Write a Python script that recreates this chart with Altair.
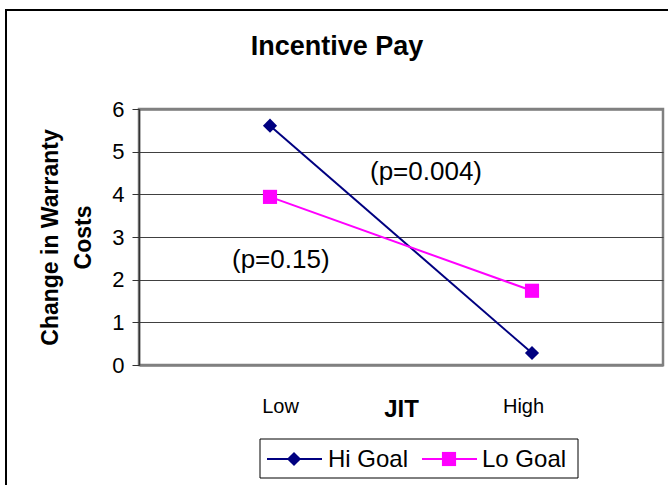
import altair as alt
import pandas as pd

categories = ["Low", "High"]
series_names = ["Hi Goal", "Lo Goal"]
hi_goal = [5.61, 0.28]
lo_goal = [3.94, 1.74]
y_ticks = [0, 1, 2, 3, 4, 5, 6]
annotations = ["(p=0.004)", "(p=0.15)"]
title_text = "Incentive Pay"

colors = ["#000080", "#FF00FF"]
FONT = "Liberation Sans"

rows = []
for name, vals in zip(series_names, [hi_goal, lo_goal]):
    for c, v in zip(categories, vals):
        rows.append({"series": name, "jit": c, "value": v})
df = pd.DataFrame(rows)
dummy = pd.DataFrame({"k": [0]})

x_enc = alt.X(
    "jit:N",
    sort=categories,
    scale=alt.Scale(type="point", padding=0.5),
    axis=alt.Axis(
        title="JIT",
        titleFont=FONT,
        titleFontSize=24,
        titleFontWeight="bold",
        titleColor="black",
        titleY=51,
        titleBaseline="alphabetic",
        labelFont=FONT,
        labelFontSize=20,
        labelColor="black",
        labelAngle=0,
        labelPadding=31,
        labelOffset=alt.condition("datum.value == 'Low'", alt.value(10), alt.value(-9)),
        domain=False,
        ticks=False,
        grid=False,
    ),
)
y_enc = alt.Y(
    "value:Q",
    scale=alt.Scale(domain=[0, 6], nice=False),
    axis=alt.Axis(
        values=y_ticks,
        title=["Change in Warranty", "Costs"],
        titleFont=FONT,
        titleFontSize=23,
        titleFontWeight="bold",
        titleColor="black",
        titleLineHeight=33,
        titlePadding=16,
        labelFont=FONT,
        labelFontSize=22,
        labelColor="black",
        labelPadding=8,
        tickSize=7,
        tickColor="#333333",
        domainColor="#333333",
        domainWidth=1.5,
        gridColor=alt.condition("datum.value == 0 || datum.value == 6", alt.value("#808080"), alt.value("#404040")),
        gridWidth=alt.condition("datum.value == 0 || datum.value == 6", alt.value(2.5), alt.value(1)),
    ),
)
color_enc = alt.Color(
    "series:N",
    scale=alt.Scale(domain=series_names, range=colors),
    legend=None,
)

base = alt.Chart(df)
lines = base.mark_line(strokeWidth=2).encode(x=x_enc, y=y_enc, color=color_enc)
points = base.mark_point(filled=True, opacity=1, size=200).encode(
    x=alt.X("jit:N", sort=categories),
    y="value:Q",
    color=color_enc,
    shape=alt.Shape("series:N", scale=alt.Scale(domain=series_names, range=["diamond", "square"]), legend=None),
)

one = alt.Chart(dummy)
frame = one.mark_rect(fill=None, stroke="black", strokeWidth=2).encode(
    x=alt.value(-133), x2=alt.value(700), y=alt.value(-99), y2=alt.value(500)
)
title = one.mark_text(font=FONT, fontSize=27, fontWeight="bold", align="center", baseline="alphabetic", color="black").encode(
    x=alt.value(198), y=alt.value(-54), text=alt.value(title_text)
)
ann1 = one.mark_text(font=FONT, fontSize=26, align="left", baseline="middle", color="black").encode(
    x=alt.value(231), y=alt.value(63), text=alt.value(annotations[0])
)
ann2 = one.mark_text(font=FONT, fontSize=26, align="left", baseline="middle", color="black").encode(
    x=alt.value(93), y=alt.value(151), text=alt.value(annotations[1])
)

leg_box = one.mark_rect(fill="white", stroke="black", strokeWidth=1).encode(
    x=alt.value(121), x2=alt.value(439), y=alt.value(330), y2=alt.value(369)
)
leg_items = []
for name, col, shp, lx, tx in [
    (series_names[0], colors[0], "diamond", 128, 189),
    (series_names[1], colors[1], "square", 283, 343),
]:
    leg_items.append(one.mark_rule(color=col, strokeWidth=2).encode(
        x=alt.value(lx), x2=alt.value(lx + 55), y=alt.value(350)))
    leg_items.append(one.mark_point(shape=shp, filled=True, opacity=1, size=200, color=col).encode(
        x=alt.value(lx + 27), y=alt.value(350)))
    leg_items.append(one.mark_text(font=FONT, fontSize=24, align="left", baseline="middle", color="black").encode(
        x=alt.value(tx), y=alt.value(351), text=alt.value(name)))

chart = alt.layer(frame, title, lines, points, ann1, ann2, leg_box, *leg_items).properties(
    width=524,
    height=256,
    autosize=alt.AutoSizeParams(type="none"),
    padding={"left": 139, "top": 109, "right": 5, "bottom": 120},
    background="white",
).configure_view(stroke="#808080", strokeWidth=2.5)

chart.save("out.html", embed_options={"renderer": "svg", "actions": False})
